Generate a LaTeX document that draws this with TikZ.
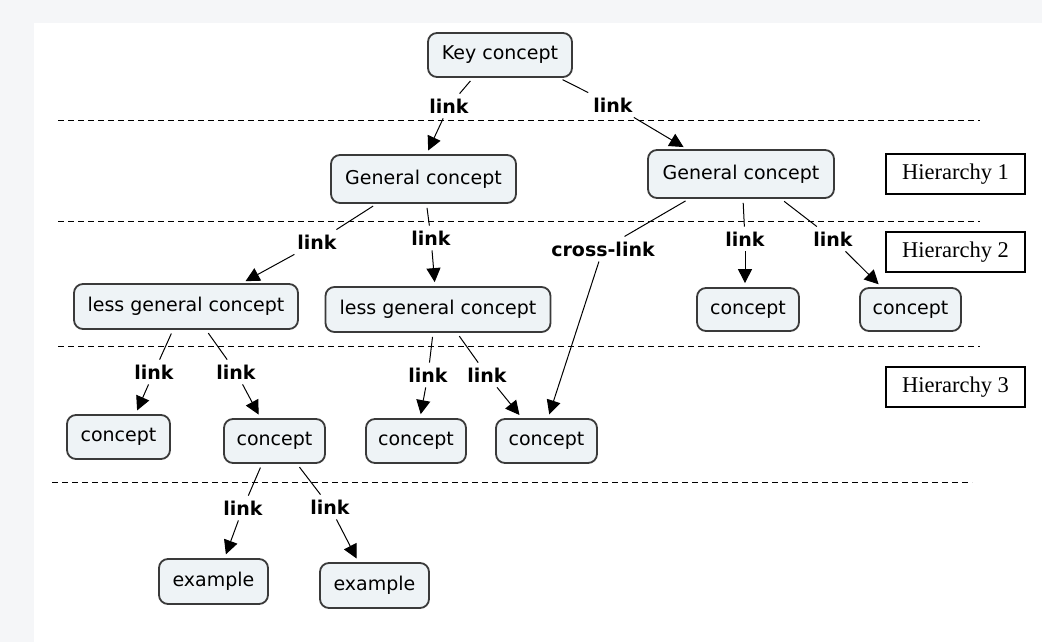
\documentclass[tikz,border=0pt]{standalone}
\usepackage{fontspec}
\setmainfont{DejaVu Sans}
\newfontfamily\serifx{Liberation Serif}
\usetikzlibrary{arrows.meta}
\definecolor{bgray}{HTML}{F5F6F8}
\definecolor{cfill}{HTML}{EEF3F6}
\definecolor{cdraw}{HTML}{3A3A3A}
\begin{document}
\begin{tikzpicture}[x=1pt,y=-1pt,
  concept/.style={draw=cdraw,fill=cfill,line width=1.8pt,rounded corners=9pt,inner sep=0pt,font=\fontsize{19}{22}\selectfont},
  lbl/.style={inner sep=5pt,font=\bfseries\fontsize{19}{22}\selectfont},
  hier/.style={draw=black,line width=1.3pt,minimum width=139pt,minimum height=40pt,inner sep=0pt,font=\serifx\fontsize{22.5}{26}\selectfont},
  conn/.style={line width=1pt,shorten <=4pt},
  arr/.style={line width=1pt,-{Triangle[length=14pt,width=14pt]},shorten >=4pt},
  sepline/.style={dash pattern=on 6pt off 4pt,line width=1pt}
]
\useasboundingbox (0,0) rectangle (1042,642);
\fill[bgray] (0,0) rectangle (1042,642);
\fill[white] (34,23) rectangle (1042,642);

% separators
\draw[sepline] (58,120) -- (980,120);
\draw[sepline] (58,221) -- (980,221);
\draw[sepline] (58,346) -- (980,346);
\draw[sepline] (52,482) -- (972,482);

% hierarchy labels
\node[hier] (h1) at (955.5,174) {Hierarchy 1};
\node[hier] (h2) at (955.5,252) {Hierarchy 2};
\node[hier] (h3) at (955.5,387) {Hierarchy 3};

% concepts
\node[concept,minimum width=144pt,minimum height=44pt] (kc) at (500,55) {Key concept};
\node[concept,minimum width=185pt,minimum height=48pt] (gcl) at (423.5,179) {General concept};
\node[concept,minimum width=186pt,minimum height=48pt] (gcr) at (741,174) {General concept};
\node[concept,minimum width=224pt,minimum height=45pt] (lgL) at (186,306.5) {less general concept};
\node[concept,minimum width=225pt,minimum height=45pt] (lgM) at (438,309.5) {less general concept};
\node[concept,minimum width=102pt,minimum height=43pt] (R1) at (748,309.5) {concept};
\node[concept,minimum width=101pt,minimum height=43pt] (R2) at (910.5,309.5) {concept};
\node[concept,minimum width=103pt,minimum height=44pt] (L1) at (118.5,437) {concept};
\node[concept,minimum width=101pt,minimum height=44pt] (L2) at (274.5,441) {concept};
\node[concept,minimum width=100pt,minimum height=44pt] (M1) at (416,441) {concept};
\node[concept,minimum width=101pt,minimum height=44pt] (M2) at (546.5,441) {concept};
\node[concept,minimum width=109pt,minimum height=45pt] (ex1) at (213.5,581.5) {example};
\node[concept,minimum width=109pt,minimum height=45pt] (ex2) at (374.5,585.5) {example};

% link labels
\node[lbl] (lk1) at (449,106) {link};
\node[lbl] (lk2) at (613,105) {link};
\node[lbl] (lk3) at (317,242) {link};
\node[lbl] (lk4) at (431,238) {link};
\node[lbl] (xl) at (603,249) {cross-link};
\node[lbl] (lk5) at (745,239) {link};
\node[lbl] (lk6) at (833,239) {link};
\node[lbl] (lk7) at (154,372) {link};
\node[lbl] (lk8) at (236,372) {link};
\node[lbl] (lk9) at (428,375) {link};
\node[lbl] (lk10) at (487,375) {link};
\node[lbl] (lk11) at (243,508) {link};
\node[lbl] (lk12) at (330,507) {link};

% connectors
\draw[conn] ([xshift=-27pt]kc.south) -- (lk1);
\draw[arr] (lk1) -- ([xshift=3pt]gcl.north);
\draw[conn] ([xshift=59pt]kc.south) -- (lk2);
\draw[arr] (lk2) -- ([xshift=-54pt]gcr.north);

\draw[conn] ([xshift=-47pt]gcl.south) -- (lk3);
\draw[arr] (lk3) -- ([xshift=56pt]lgL.north);
\draw[conn] ([xshift=3pt]gcl.south) -- (lk4);
\draw[arr] (lk4) -- ([xshift=-3pt]lgM.north);

\draw[conn] ([xshift=-52pt]gcr.south) -- (xl);
\draw[arr] (xl) -- ([xshift=1.5pt]M2.north);
\draw[conn] ([xshift=2pt]gcr.south) -- (lk5);
\draw[arr] (lk5) -- ([xshift=-3pt]R1.north);
\draw[conn] ([xshift=40pt]gcr.south) -- (lk6);
\draw[arr] (lk6) -- ([xshift=-29pt]R2.north);

\draw[conn] ([xshift=-13pt]lgL.south) -- (lk7);
\draw[arr] (lk7) -- ([xshift=17pt]L1.north);
\draw[conn] ([xshift=20pt]lgL.south) -- (lk8);
\draw[arr] (lk8) -- ([xshift=-14pt]L2.north);

\draw[conn] ([xshift=-5pt]lgM.south) -- (lk9);
\draw[arr] (lk9) -- ([xshift=4pt]M1.north);
\draw[conn] ([xshift=19pt]lgM.south) -- (lk10);
\draw[arr] (lk10) -- ([xshift=-24.5pt]M2.north);

\draw[conn] ([xshift=-12.5pt]L2.south) -- (lk11);
\draw[arr] (lk11) -- ([xshift=11pt]ex1.north);
\draw[conn] ([xshift=22.5pt]L2.south) -- (lk12);
\draw[arr] (lk12) -- ([xshift=-16pt]ex2.north);
\end{tikzpicture}
\end{document}
